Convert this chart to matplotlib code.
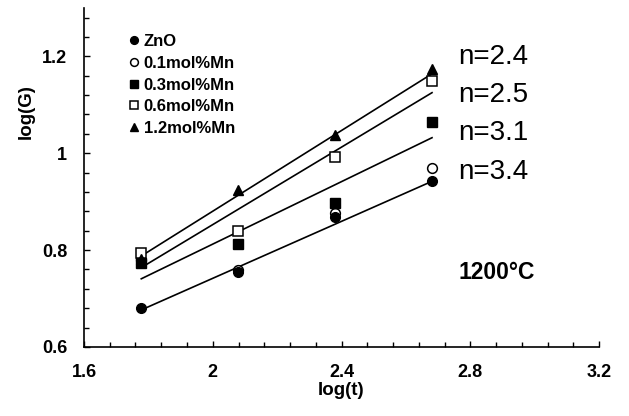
import matplotlib
matplotlib.use("Agg")
import matplotlib.pyplot as plt
from matplotlib.ticker import MultipleLocator
import numpy as np

plt.rcParams['font.family'] = ['Liberation Sans', 'DejaVu Sans']

# log of annealing time (60, 120, 240, 480 min)
log_t = [1.778, 2.079, 2.380, 2.681]

series_names = ['ZnO', '0.1mol%Mn', '0.3mol%Mn', '0.6mol%Mn', '1.2mol%Mn']
log_g_zno = [0.680, 0.755, 0.869, 0.942]
log_g_01 = [0.780, 0.758, 0.877, 0.970]
log_g_03 = [0.773, 0.812, 0.898, 1.065]
log_g_06 = [0.793, 0.840, 0.992, 1.149]
log_g_12 = [0.782, 0.925, 1.037, 1.173]

# fitted grain growth lines: exponent n and fitted value at the last time
n_labels = ['n=2.4', 'n=2.5', 'n=3.1', 'n=3.4']
n_values = [2.4, 2.5, 3.1, 3.4]
fit_end = [1.164, 1.125, 1.032, 0.942]

fig = plt.figure(figsize=(6.29, 4.16), dpi=100)
ax = fig.add_axes([0.1335, 0.166, 0.819, 0.815])

# fit lines (slope = 1/n)
x_fit = np.array([log_t[0], log_t[-1]])
for n, y_end in zip(n_values, fit_end):
    y_fit = y_end - (x_fit[-1] - x_fit) / n
    ax.plot(x_fit, y_fit, color='black', lw=1.2, zorder=2)

ms = 7
ax.plot(log_t, log_g_01, 'o', mfc='white', mec='black', mew=1.1, ms=ms,
        label=series_names[1], zorder=3)
ax.plot(log_t, log_g_zno, 'o', color='black', ms=ms, label=series_names[0], zorder=4)
ax.plot(log_t, log_g_03, 's', color='black', ms=ms - 0.5, label=series_names[2], zorder=3)
ax.plot(log_t, log_g_06, 's', mfc='white', mec='black', mew=1.1, ms=ms - 0.5,
        label=series_names[3], zorder=3)
ax.plot(log_t, log_g_12, '^', color='black', ms=ms, label=series_names[4], zorder=3)

handles, labels = ax.get_legend_handles_labels()
order = [1, 0, 2, 3, 4]
leg = ax.legend([handles[i] for i in order], [labels[i] for i in order],
                loc='upper left', bbox_to_anchor=(0.074, 0.942), frameon=False,
                handlelength=0.6, handletextpad=0.3, labelspacing=0.4,
                borderaxespad=0, prop={'weight': 'bold', 'size': 12},
                markerscale=0.8)

# n labels on the right
n_text_y = [1.198, 1.120, 1.041, 0.961]
for lab, ty in zip(n_labels, n_text_y):
    ax.text(2.763, ty, lab, fontsize=20, va='center', ha='left')

ax.text(2.881, 0.753, '1200°C', fontsize=16.5, fontweight='bold', ha='center', va='center')

ax.set_xlim(1.6, 3.2)
ax.set_ylim(0.6, 1.3)
ax.xaxis.set_major_locator(MultipleLocator(0.4))
ax.xaxis.set_minor_locator(MultipleLocator(0.08))
ax.yaxis.set_major_locator(MultipleLocator(0.2))
ax.yaxis.set_minor_locator(MultipleLocator(0.04))
ax.set_xticks([1.6, 2.0, 2.4, 2.8, 3.2])
ax.set_xticklabels(['1.6', '2', '2.4', '2.8', '3.2'])
ax.set_yticks([0.6, 0.8, 1.0, 1.2])
ax.set_yticklabels(['0.6', '0.8', '1', '1.2'])

ax.tick_params(which='both', direction='in', width=1.0, labelsize=13)
ax.tick_params(which='major', length=4.5, pad=12)
ax.tick_params(which='minor', length=3.5)
for lbl in ax.get_xticklabels() + ax.get_yticklabels():
    lbl.set_fontweight('bold')

for side in ['top', 'right']:
    ax.spines[side].set_visible(False)
for side in ['left', 'bottom']:
    ax.spines[side].set_linewidth(1.2)

ax.set_xlabel('log(t)', fontsize=13.5, fontweight='bold', labelpad=1)
ax.set_ylabel('log(G)', fontsize=13.5, fontweight='bold')
ax.yaxis.set_label_coords(-0.095, 0.693)

fig.savefig('out.png', dpi=100)
